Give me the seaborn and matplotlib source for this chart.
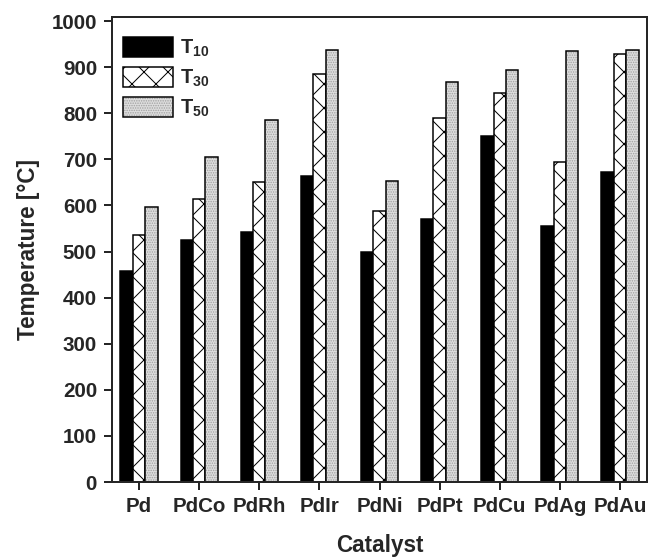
import numpy as np
import pandas as pd
import matplotlib.pyplot as plt
import seaborn as sns
from matplotlib.patches import Patch, Rectangle
from matplotlib.legend_handler import HandlerTuple

# light-off temperatures per catalyst
catalysts = ["Pd", "PdCo", "PdRh", "PdIr", "PdNi", "PdPt", "PdCu", "PdAg", "PdAu"]
t10 = [457, 525, 543, 663, 498, 571, 750, 556, 672]
t30 = [535, 614, 652, 885, 587, 790, 845, 695, 929]
t50 = [597, 705, 786, 937, 654, 868, 894, 936, 937]
series = ["T10", "T30", "T50"]
series_labels = ["T$_{10}$", "T$_{30}$", "T$_{50}$"]
y_ticks = list(range(0, 1001, 100))

df = pd.DataFrame({
    "catalyst": catalysts * 3,
    "series": np.repeat(series, len(catalysts)),
    "temp": t10 + t30 + t50,
})

sns.set_style("ticks")
plt.rcParams["font.family"] = ["Liberation Sans", "DejaVu Sans"]
plt.rcParams["font.weight"] = "bold"
plt.rcParams["mathtext.fontset"] = "custom"
plt.rcParams["mathtext.rm"] = "Liberation Sans:bold"
plt.rcParams["mathtext.default"] = "rm"
plt.rcParams["hatch.linewidth"] = 1.0

fs_tick = 20.5
fs_lab = 22.5
fig = plt.figure(figsize=(9, 7.75), dpi=72)
ax = fig.add_axes([112 / 648, 1 - 482 / 558, (647 - 112) / 648, (482 - 17) / 558])

sns.barplot(data=df, x="catalyst", y="temp", hue="series",
            order=catalysts, hue_order=series,
            palette=["black", "white", "#dedede"], saturation=1,
            width=0.62, gap=0, edgecolor="black", linewidth=1.5,
            legend=False, ax=ax)

n = len(catalysts)
bars = ax.patches[:3 * n]
for p in bars[n:2 * n]:
    p.set_hatch("x")
for p in bars[2 * n:3 * n]:
    # grey dots, then a black outline on top
    p.set_hatch(".....")
    p.set_edgecolor("#a0a0a0")
    p.set_linewidth(0)
    ax.add_patch(Rectangle((p.get_x(), p.get_y()), p.get_width(), p.get_height(),
                           fill=False, edgecolor="black", linewidth=1.5, zorder=p.get_zorder() + 0.1))

ax.set_xlim(-0.45, n - 0.55)
ax.set_ylim(0, 1009)
ax.set_yticks(y_ticks)
for s in ax.spines.values():
    s.set_visible(True)
    s.set_linewidth(2)
ax.tick_params(direction="out", length=8, width=2, labelsize=fs_tick, pad=7,
               top=False, right=False)
for lab in ax.get_xticklabels() + ax.get_yticklabels():
    lab.set_fontweight("bold")

ax.set_xlabel("Catalyst", fontsize=fs_lab, fontweight="bold")
ax.set_ylabel("Temperature [°C]", fontsize=fs_lab, fontweight="bold")
ax.xaxis.set_label_coords(0.5, -(534 - 482) / 465)
ax.yaxis.set_label_coords((40 - 112) / 535, 0.5)

h10 = Patch(facecolor="black", edgecolor="black", linewidth=1.5)
h30 = Patch(facecolor="white", edgecolor="black", linewidth=1.5, hatch="x")
h50 = (Patch(facecolor="#dedede", edgecolor="#a0a0a0", linewidth=0, hatch="....."),
       Patch(facecolor="none", edgecolor="black", linewidth=1.5))
ax.legend([h10, h30, h50], series_labels, loc="upper left",
          bbox_to_anchor=(11 / 535, 1 - 20 / 465), borderaxespad=0, borderpad=0,
          frameon=False, fontsize=20, handlelength=2.5, handleheight=1.15,
          handletextpad=0.35, labelspacing=0.4,
          handler_map={tuple: HandlerTuple(ndivide=1, pad=0)})

fig.savefig("out.png", dpi=72)
